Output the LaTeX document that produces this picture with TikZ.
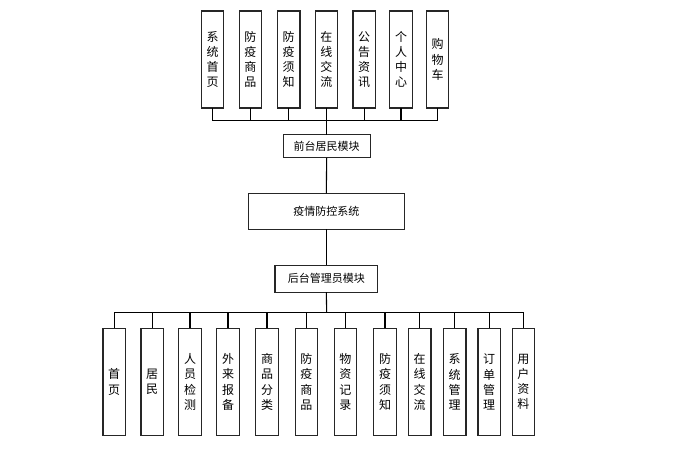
\documentclass[tikz,border=0pt]{standalone}
\usepackage{fontspec}
\newfontfamily\cjk{Noto Sans CJK SC}
\begin{document}
\begin{tikzpicture}[x=1pt,y=-1pt,
  vbox/.style={draw=black!85,line width=1.1pt,fill=white,inner sep=0pt,outer sep=0pt,
    minimum width=22.5pt,align=center,font=\cjk\fontsize{12}{15.2}\selectfont},
  hbox/.style={draw=black!85,line width=1.1pt,fill=white,inner sep=0pt,outer sep=0pt,
    font=\cjk\fontsize{11}{13}\selectfont},
  conn/.style={draw=black,line width=1.1pt}]
\useasboundingbox (0,0) rectangle (683,449);
% top row
\foreach \n/\x/\t in {1/212.5/{系\\统\\首\\页},2/250.3/{防\\疫\\商\\品},3/288.7/{防\\疫\\须\\知},
  4/326.3/{在\\线\\交\\流},5/364.2/{公\\告\\资\\讯},6/401/{个\\人\\中\\心},7/437.5/{购\\物\\车}}
  \node[vbox,minimum height=97pt] (t\n) at (\x,59.5) {\t};
\node[hbox,minimum width=87pt,minimum height=23pt] (front) at (326.7,146.3) {前台居民模块};
\node[hbox,minimum width=156pt,minimum height=36pt] (sys) at (326.3,211.3) {疫情防控系统};
\node[hbox,minimum width=102.7pt,minimum height=27pt] (back) at (326.3,278.7) {后台管理员模块};
% bottom row
\foreach \n/\x/\t in {1/114.2/{首\\页},2/152.2/{居\\民},3/190/{人\\员\\检\\测},4/228/{外\\来\\报\\备},
  5/267/{商\\品\\分\\类},6/306.3/{防\\疫\\商\\品},7/345.3/{物\\资\\记\\录},8/385/{防\\疫\\须\\知},
  9/419.7/{在\\线\\交\\流},10/454.7/{系\\统\\管\\理},11/489.2/{订\\单\\管\\理},12/523.3/{用\\户\\资\\料}}
  \node[vbox,minimum height=107.4pt] (b\n) at (\x,382) {\t};
\coordinate (tbus) at (326.7,120.7);
\coordinate (bbus) at (326.7,312.3);
\foreach \n in {1,...,7} \draw[conn] (t\n.south) |- (tbus);
\draw[conn] (tbus) -- (front.north);
\draw[conn] (front.south) -- (sys.north);
\draw[conn] (sys.south) -- (back.north);
\draw[conn] (back.south) -- (bbus);
\foreach \n in {1,...,12} \draw[conn] (bbus) -| (b\n.north);
\end{tikzpicture}
\end{document}
